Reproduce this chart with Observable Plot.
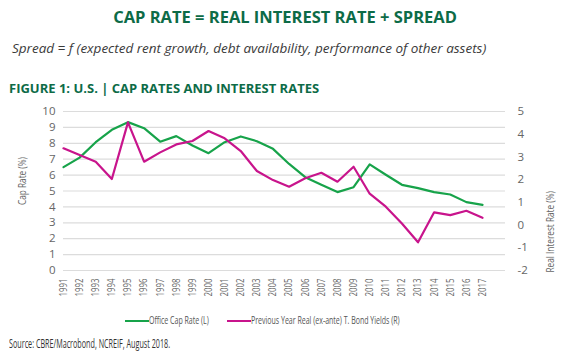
<!DOCTYPE html>
<html><head><meta charset="utf-8">
<script src="https://cdn.jsdelivr.net/npm/d3@7"></script>
<script src="https://cdn.jsdelivr.net/npm/@observablehq/plot@0.6"></script>
<style>
body{margin:0;background:#fff;width:570px;height:364px;overflow:hidden;font-family:"Open Sans",sans-serif;}
#t{position:absolute;left:0;width:570px;top:5px;text-align:center;font:700 16.5px "Open Sans",sans-serif;color:#0d6b47;}
#s{position:absolute;left:12px;top:39px;font:italic 13.5px "Open Sans",sans-serif;color:#3a3a3a;}
#f{position:absolute;left:9px;top:79px;font:bold 13px "Open Sans",sans-serif;color:#0d6b47;}
#c{position:absolute;left:0;top:100px;}
#l{position:absolute;top:312px;left:0;width:570px;font-size:11.5px;color:#555;}
.sw{position:absolute;top:8px;width:24px;height:2px;}
.lt{position:absolute;top:0px;white-space:nowrap;transform:scaleX(0.61);transform-origin:0 0;}
#src{position:absolute;left:9px;top:335px;font-size:12px;color:#333;white-space:nowrap;transform:scaleX(0.6);transform-origin:0 0;}
</style></head><body>
<div id="t">CAP RATE = REAL INTEREST RATE + SPREAD</div>
<div id="s">Spread = f (expected rent growth, debt availability, performance of other assets)</div>
<div id="f">FIGURE 1: U.S. | CAP RATES AND INTEREST RATES</div>
<div id="c"></div>
<div id="l">
<div class="sw" style="left:125px;background:#17a34a"></div><div class="lt" style="left:149px">Office Cap Rate (L)</div>
<div class="sw" style="left:227px;background:#c8148c"></div><div class="lt" style="left:251px">Previous Year Real (ex-ante) T. Bond Yields (R)</div>
</div>
<div id="src">Source: CBRE/Macrobond, NCREIF, August 2018.</div>
<script>
const years = d3.range(1991, 2018);
const capRate = [6.5,7.1,8.07,8.85,9.33,8.95,8.1,8.45,7.86,7.38,8.07,8.43,8.13,7.65,6.7,5.87,5.39,4.93,5.24,6.67,6.02,5.39,5.18,4.93,4.78,4.3,4.13];
const realRate = [3.38,3.08,2.79,2.03,4.52,2.79,3.2,3.55,3.7,4.14,3.82,3.26,2.38,1.98,1.69,2.06,2.3,1.91,2.57,1.38,0.81,0.07,-0.76,0.56,0.44,0.63,0.32];
const leftTicks = d3.range(0, 11);
const rightTicks = d3.range(-2, 6);
const toLeft = r => (r + 2) * 10 / 7;

const capData = years.map((y, i) => ({year: y, v: capRate[i]}));
const realData = years.map((y, i) => ({year: y, v: toLeft(realRate[i])}));

const chart = Plot.plot({
  width: 570, height: 210,
  marginTop: 11, marginBottom: 40, marginLeft: 63, marginRight: 65,
  style: {fontFamily: '"Open Sans",sans-serif', fontSize: "11px", color: "#666", background: "white"},
  x: {domain: [1991, 2017], insetRight: 23},
  y: {domain: [0, 10]},
  marks: [
    Plot.ruleY(leftTicks, {stroke: "#dcdcdc", strokeWidth: 1.2}),
    Plot.axisX({ticks: years, tickFormat: d => String(d), tickRotate: -90, tickSize: 0, tickPadding: 8, fontSize: 10.5, label: null}),
    Plot.axisY({ticks: leftTicks, tickSize: 0, tickPadding: 8, fontSize: 11.5, label: null}),
    Plot.axisY({anchor: "right", ticks: rightTicks.map(toLeft), tickFormat: d => String(Math.round(d * 0.7 - 2)), tickSize: 0, tickPadding: 12, fontSize: 11.5, label: null}),
    Plot.text(["Cap Rate (%)"], {frameAnchor: "left", dx: -41, dy: 14, rotate: -90, fontSize: 11, fill: "#666"}),
    Plot.text(["Real Interest Rate (%)"], {frameAnchor: "right", dx: 45, dy: 0, rotate: -90, fontSize: 11, fill: "#666"}),
    Plot.line(capData, {x: "year", y: "v", stroke: "#17a34a", strokeWidth: 2.2}),
    Plot.line(realData, {x: "year", y: "v", stroke: "#c8148c", strokeWidth: 2.2})
  ]
});
chart.querySelectorAll("text").forEach(t => {
  const tr = t.getAttribute("transform");
  if (tr && tr.includes("rotate")) t.setAttribute("transform", tr + " scale(0.75,1)");
});
document.getElementById("c").appendChild(chart);
</script>
</body></html>
